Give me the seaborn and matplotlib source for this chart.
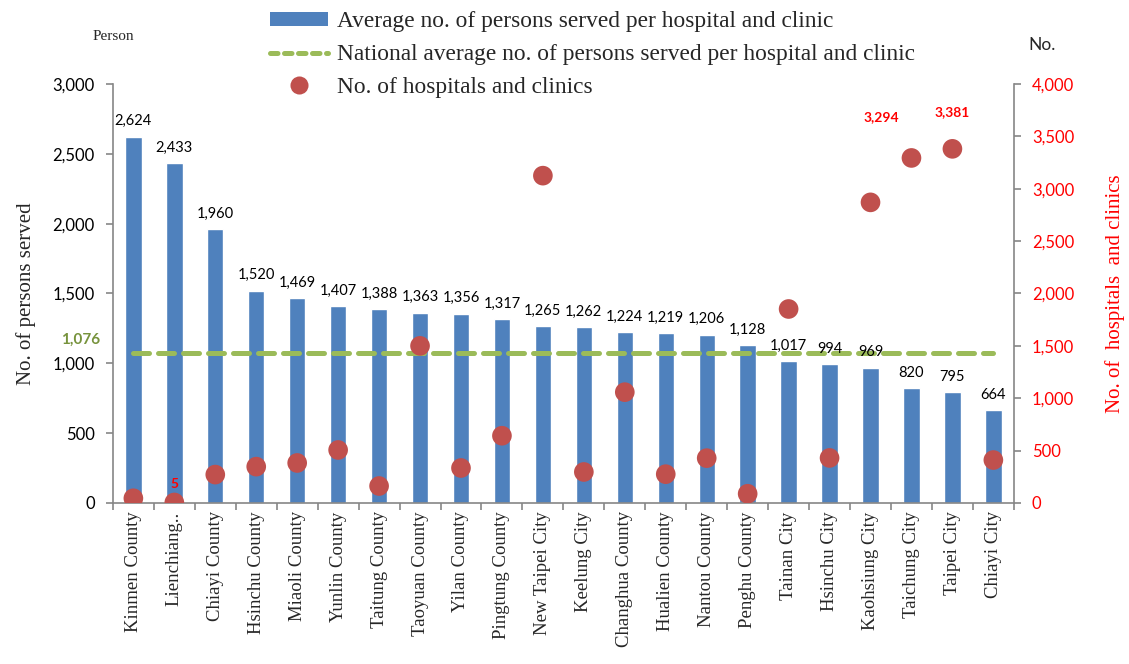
import numpy as np
import pandas as pd
import matplotlib
matplotlib.use("Agg")
import matplotlib.pyplot as plt
from matplotlib.lines import Line2D
from matplotlib.patches import Patch
from matplotlib.ticker import FuncFormatter, FixedLocator
import seaborn as sns

# ---- data ----
regions = ["Kinmen County", "Lienchiang..", "Chiayi County", "Hsinchu County",
           "Miaoli County", "Yunlin County", "Taitung County", "Taoyuan County",
           "Yilan County", "Pingtung County", "New Taipei City", "Keelung City",
           "Changhua County", "Hualien County", "Nantou County", "Penghu County",
           "Tainan City", "Hsinchu City", "Kaohsiung City", "Taichung City",
           "Taipei City", "Chiayi City"]
persons_served = [2624, 2433, 1960, 1520, 1469, 1407, 1388, 1363, 1356, 1317,
                  1265, 1262, 1224, 1219, 1206, 1128, 1017, 994, 969, 820, 795, 664]
hospitals = [45, 5, 271, 347, 382, 506, 162, 1500, 334, 642, 3125, 296, 1058,
             275, 428, 88, 1852, 430, 2870, 3294, 3381, 410]
national_avg = 1076
labelled_counts = {"Lienchiang..": 5, "Taichung City": 3294, "Taipei City": 3381}

df = pd.DataFrame({"region": regions, "served": persons_served,
                   "hospitals": hospitals})

sns.set_style("white")
serif = ["Liberation Serif", "DejaVu Serif"]
sans = ["Lato", "DejaVu Sans"]
plt.rcParams["font.family"] = sans

BLUE = "#4F81BD"
RED_DOT = "#C0504D"
GREEN = "#9BBB59"
AXIS_GREY = "#868686"

fig = plt.figure(figsize=(11.29, 6.64), dpi=100)
ax = fig.add_axes([0.1, 0.2425, 0.798, 0.631])

sns.barplot(data=df, x="region", y="served", color=BLUE, width=0.4,
            saturation=1, ax=ax, zorder=2)
pos = np.arange(len(regions))
ax.set_xlim(-0.5, len(regions) - 0.5)
ax.set_ylim(0, 3000)
ax.yaxis.set_major_locator(FixedLocator(np.arange(0, 3001, 500)))
ax.yaxis.set_major_formatter(FuncFormatter(lambda v, p: f"{int(v):,}"))

# national average line
ax.plot(pos, [national_avg] * len(pos), color=GREEN, lw=3.6,
        dashes=(3.2, 1.8), dash_capstyle="round", zorder=3)
ax.text(-0.82, national_avg + 40, f"{national_avg:,}", color="#77933C",
        fontsize=11, fontweight="bold", ha="right", va="bottom",
        family=sans)

# bar value labels
for i, v in enumerate(persons_served):
    ax.annotate(f"{v:,}", (i, v), xytext=(0, 6), textcoords="offset points",
                ha="center", va="bottom", fontsize=10.5, color="black",
                family=sans)

# hospital counts on the secondary axis
ax2 = ax.twinx()
ax2.scatter(pos, hospitals, s=200, color=RED_DOT, edgecolor="none", zorder=4)
ax2.set_ylim(0, 4000)
ax2.yaxis.set_major_locator(FixedLocator(np.arange(0, 4001, 500)))
ax2.yaxis.set_major_formatter(FuncFormatter(lambda v, p: f"{int(v):,}"))
for name, val in labelled_counts.items():
    i = regions.index(name)
    dx = -22 if name == "Taichung City" else 0
    dy = {"Lienchiang..": 9, "Taichung City": 25}.get(name, 22)
    ax2.annotate(f"{val:,}", (i, val), xytext=(dx, dy),
                 textcoords="offset points", ha="center", va="bottom",
                 fontsize=10, fontweight="bold", color="red", family=sans)

# axes styling
for a in (ax, ax2):
    a.spines["top"].set_visible(False)
    for side in ("left", "right", "bottom"):
        a.spines[side].set_color(AXIS_GREY)
        a.spines[side].set_linewidth(1.2)
ax.spines["right"].set_visible(False)
ax2.spines["left"].set_visible(False)
ax2.spines["bottom"].set_visible(False)

ax.tick_params(axis="y", direction="out", length=5, width=1.2,
               color=AXIS_GREY, labelsize=12, labelcolor="black", pad=8,
               left=True)
ax2.tick_params(axis="y", direction="out", length=5, width=1.2,
                color=AXIS_GREY, labelsize=12, labelcolor="red", pad=8,
                right=True)
ax.set_xticks(pos)
ax.set_xticklabels(regions, rotation=90, family=serif, fontsize=13.5)
ax.set_xticks(np.arange(-0.5, len(regions) + 0.5, 1), minor=True)
ax.tick_params(axis="x", which="major", length=0, pad=6)
ax.tick_params(axis="x", which="minor", direction="out", length=5,
               width=1.2, color=AXIS_GREY, bottom=True)
for lab in ax.get_yticklabels():
    lab.set_family(sans)
for lab in ax2.get_yticklabels():
    lab.set_family(sans)

ax.set_xlabel("")
ax.set_ylabel("No. of persons served", family=serif, fontsize=15, labelpad=12)
ax2.set_ylabel("No. of  hospitals  and clinics", family=serif, fontsize=15,
               color="red", labelpad=22)

fig.text(0.1, 0.945, "Person", family=serif, fontsize=11, ha="center",
         va="center")
fig.text(0.923, 0.932, "No.", family=sans, fontsize=12.5, ha="center",
         va="center")

# legend
handles = [Patch(facecolor=BLUE, edgecolor="none"),
           Line2D([0], [0], color=GREEN, lw=3.6, dashes=(1.5, 1.3),
                  dash_capstyle="round"),
           Line2D([0], [0], marker="o", color="none", markerfacecolor=RED_DOT,
                  markeredgecolor="none", markersize=13)]
labels = ["Average no. of persons served per hospital and clinic",
          "National average no. of persons served per hospital and clinic",
          "No. of hospitals and clinics"]
fig.legend(handles, labels, loc="upper left", bbox_to_anchor=(0.231, 0.997),
           frameon=False, prop={"family": serif, "size": 16.8},
           handlelength=2.5, handleheight=0.5, handletextpad=0.35,
           labelspacing=0.5, borderaxespad=0)

fig.savefig("out.png", dpi=100)
